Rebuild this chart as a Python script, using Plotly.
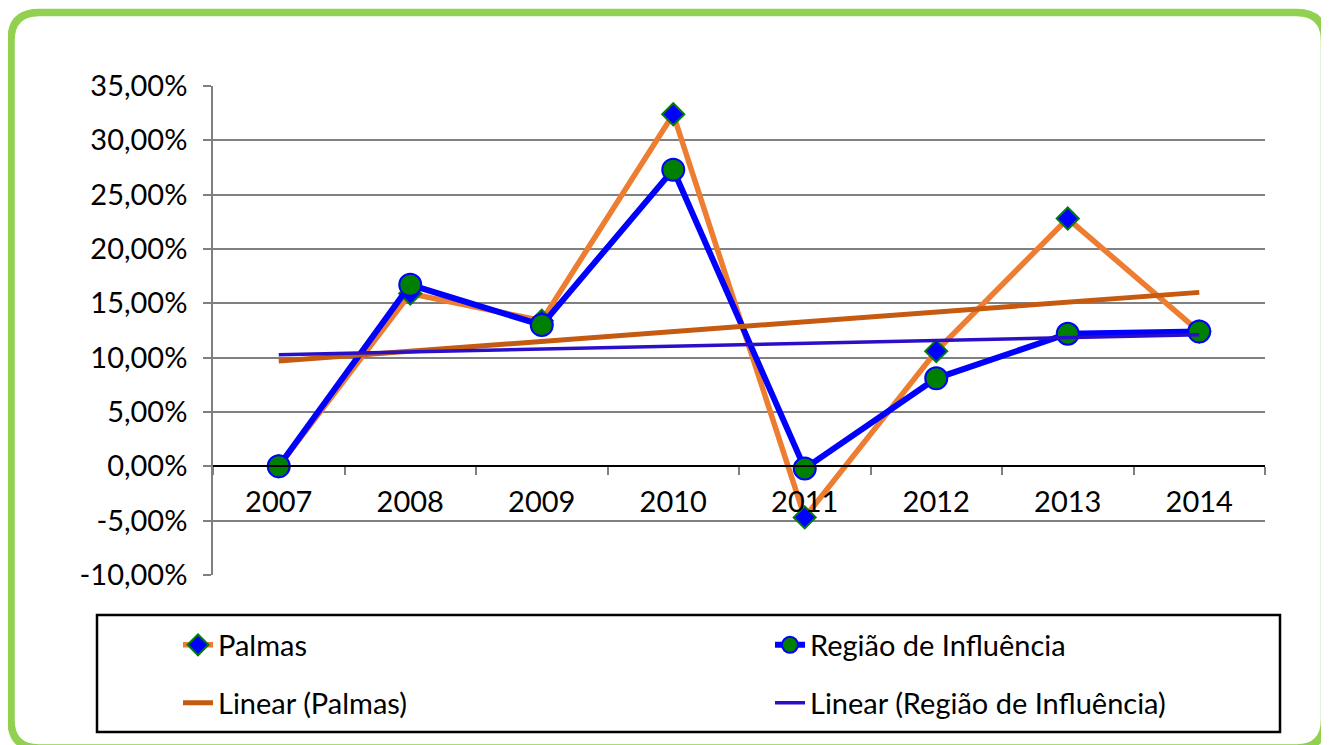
import numpy as np
import plotly.graph_objects as go

years = ["2007", "2008", "2009", "2010", "2011", "2012", "2013", "2014"]
palmas = [0.0, 15.9, 13.4, 32.4, -4.7, 10.6, 22.8, 12.4]
regiao = [0.0, 16.7, 13.0, 27.3, -0.2, 8.1, 12.2, 12.4]
y_tickvals = [-10, -5, 0, 5, 10, 15, 20, 25, 30, 35]
y_ticktext = ["-10,00%", "-5,00%", "0,00%", "5,00%", "10,00%", "15,00%",
              "20,00%", "25,00%", "30,00%", "35,00%"]

W, H = 1329, 745
OFF = 8  # page body margin offset
L, R, T, B = 213 - OFF, 1265 - OFF, 86 - OFF, 575 - OFF
YMIN, YMAX = -10, 35


def px(X):
    return (X - OFF - L) / (R - L)


def py(Y):
    return (B - (Y - OFF)) / (B - T)


idx = np.arange(len(years))
tp = np.polyval(np.polyfit(idx, palmas, 1), idx)
tr = np.polyval(np.polyfit(idx, regiao, 1), idx)

FONT = "Lato"
FS = 29

fig = go.Figure()
fig.add_trace(go.Scatter(
    x=years, y=palmas, name="Palmas", mode="lines+markers",
    line=dict(color="#ED7D31", width=5.5),
    marker=dict(symbol="diamond", size=17, color="#0000FF",
                line=dict(color="#008000", width=2)),
    legend="legend"))
fig.add_trace(go.Scatter(
    x=years, y=regiao, name="Região de Influência", mode="lines+markers",
    line=dict(color="#0000FF", width=6),
    marker=dict(symbol="circle", size=22, color="#008000",
                line=dict(color="#0000FF", width=2)),
    legend="legend"))
fig.add_trace(go.Scatter(
    x=years, y=tp, name="Linear (Palmas)", mode="lines",
    line=dict(color="#C55A11", width=5),
    legend="legend2"))
fig.add_trace(go.Scatter(
    x=years, y=tr, name="Linear (Região de Influência)", mode="lines",
    line=dict(color="#2A0FC8", width=3.5),
    legend="legend2"))


def rr_path(x0, y0, x1, y1, r):
    pts = [
        ("M", (x0 + r, y0)), ("L", (x1 - r, y0)), ("Q", (x1, y0), (x1, y0 + r)),
        ("L", (x1, y1 - r)), ("Q", (x1, y1), (x1 - r, y1)),
        ("L", (x0 + r, y1)), ("Q", (x0, y1), (x0, y1 - r)),
        ("L", (x0, y0 + r)), ("Q", (x0, y0), (x0 + r, y0)),
    ]
    s = ""
    for p in pts:
        cmd = p[0]
        coords = " ".join(f"{px(a):.5f},{py(b):.5f}" for a, b in p[1:])
        s += f"{cmd}{coords} "
    return s + "Z"


shapes = [
    dict(type="path", xref="paper", yref="paper",
         path=rr_path(11, 12.5, 1324.5, 748, 28),
         line=dict(color="#92D050", width=7.5), layer="above"),
    dict(type="rect", xref="paper", yref="paper",
         x0=px(97), x1=px(1280), y0=py(615), y1=py(732),
         line=dict(color="#000000", width=2.5)),
]

leg_common = dict(orientation="h", xanchor="left", yanchor="middle",
                  entrywidth=547, entrywidthmode="pixels",
                  bgcolor="rgba(0,0,0,0)",
                  font=dict(family=FONT, size=FS, color="#000000"),
                  itemclick=False, itemdoubleclick=False)

fig.update_layout(
    width=W, height=H,
    margin=dict(l=L, r=W - R, t=T, b=H - B, pad=0, autoexpand=False),
    paper_bgcolor="white", plot_bgcolor="white",
    font=dict(family=FONT, size=FS, color="#000000"),
    shapes=shapes,
    xaxis=dict(type="category", categoryorder="array", categoryarray=years,
               range=[-0.5, 7.5], showgrid=False, automargin=False,
               anchor="free", position=(0 - YMIN) / (YMAX - YMIN),
               showline=True, linecolor="#000000", linewidth=1.5,
               ticks="outside", tickson="boundaries", ticklen=8,
               tickcolor="#808080", tickwidth=1.5,
               tickfont=dict(family=FONT, size=FS, color="#000000"),
               ticklabelstandoff=10),
    yaxis=dict(range=[YMIN, YMAX], tickvals=y_tickvals, ticktext=y_ticktext,
               showgrid=True, gridcolor="#808080", gridwidth=1.5,
               automargin=False,
               zeroline=False, showline=True, linecolor="#808080",
               linewidth=1.5, ticks="outside", ticklen=8,
               tickcolor="#808080", tickwidth=1.5, ticklabelstandoff=10,
               tickfont=dict(family=FONT, size=FS, color="#000000")),
    legend=dict(x=px(178), y=py(645), **leg_common),
    legend2=dict(x=px(178), y=py(703), **leg_common),
    showlegend=True,
)

fig.write_html("out.html")
